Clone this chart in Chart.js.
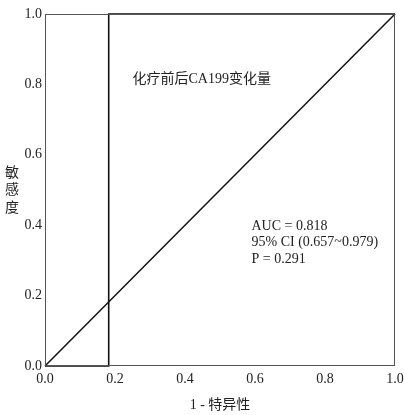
<!DOCTYPE html>
<html>
<head>
<meta charset="utf-8">
<script src="https://cdn.jsdelivr.net/npm/chart.js@4.4.0/dist/chart.umd.min.js"></script>
<style>
    html, body { margin: 0; padding: 0; background: #fff; }
    #wrap { width: 404px; height: 415px; }
</style>
</head>
<body>
<div id="wrap"><canvas id="rocChart"></canvas></div>
<script>
// ROC curve data
const rocFpr = [0, 0.182, 0.182, 1];
const rocTpr = [0, 0, 1, 1];
const refFpr = [0, 1];
const refTpr = [0, 1];
const tickValues = [0, 0.2, 0.4, 0.6, 0.8, 1.0];
const curveLabel = '化疗前后CA199变化量';
const statLines = ['AUC = 0.818', '95% CI (0.657~0.979)', 'P = 0.291'];
const xTitle = '1 - 特异性';
const yTitle = ['敏', '感', '度'];

const serif = "'Liberation Serif', 'Noto Sans CJK SC', serif";

function toPoints(xs, ys) {
    return xs.map((x, i) => ({ x: x, y: ys[i] }));
}

// Box, titles and text notes
const notesPlugin = {
    id: 'notes',
    afterDraw(chart) {
        const ctx = chart.ctx;
        const area = chart.chartArea;
        const xs = chart.scales.x;
        const ys = chart.scales.y;
        ctx.save();

        // frame
        ctx.strokeStyle = '#555';
        ctx.lineWidth = 1;
        ctx.strokeRect(area.left + 0.5, area.top + 0.5, area.right - area.left - 1, area.bottom - area.top - 1);

        ctx.fillStyle = '#222';
        ctx.font = "14px " + serif;
        ctx.textAlign = 'left';
        ctx.textBaseline = 'middle';
        ctx.fillText(curveLabel, xs.getPixelForValue(0.25), ys.getPixelForValue(0.813));

        statLines.forEach((line, i) => {
            ctx.fillText(line, xs.getPixelForValue(0.59), ys.getPixelForValue(0.398) + i * 16.5);
        });

        // axis titles
        ctx.textAlign = 'center';
        ctx.font = "14px " + serif;
        ctx.fillText(xTitle, (area.left + area.right) / 2, 405);

        yTitle.forEach((ch, i) => {
            ctx.fillText(ch, 12, 173 + i * 17.5);
        });
        ctx.restore();
    }
};

document.addEventListener('DOMContentLoaded', function() {
    const ctx = document.getElementById('rocChart').getContext('2d');
    new Chart(ctx, {
        type: 'scatter',
        data: {
            datasets: [{
                data: toPoints(rocFpr, rocTpr),
                showLine: true,
                borderColor: '#111',
                borderWidth: 1.6,
                pointRadius: 0,
                tension: 0
            }, {
                data: toPoints(refFpr, refTpr),
                showLine: true,
                borderColor: '#111',
                borderWidth: 1.5,
                pointRadius: 0,
                tension: 0
            }]
        },
        options: {
            responsive: true,
            maintainAspectRatio: false,
            animation: false,
            clip: false,
            layout: { padding: { top: 14, right: 0, left: 0, bottom: 0 } },
            plugins: {
                legend: { display: false },
                tooltip: { enabled: false }
            },
            scales: {
                x: {
                    type: 'linear',
                    min: 0,
                    max: 1,
                    grid: { display: false, drawTicks: false },
                    border: { display: false },
                    afterBuildTicks: axis => { axis.ticks = tickValues.map(v => ({ value: v })); },
                    afterFit: axis => { axis.height = 49; axis.paddingRight = 9; },
                    ticks: {
                        padding: 5,
                        color: '#222',
                        font: { family: serif, size: 14 },
                        maxRotation: 0,
                        callback: v => v.toFixed(1)
                    }
                },
                y: {
                    type: 'linear',
                    min: 0,
                    max: 1,
                    grid: { display: false, drawTicks: false },
                    border: { display: false },
                    afterBuildTicks: axis => { axis.ticks = tickValues.map(v => ({ value: v })); },
                    afterFit: axis => { axis.width = 45; },
                    ticks: {
                        padding: 3,
                        color: '#222',
                        font: { family: serif, size: 14 },
                        callback: v => v.toFixed(1)
                    }
                }
            }
        },
        plugins: [notesPlugin]
    });
});
</script>
</body>
</html>
